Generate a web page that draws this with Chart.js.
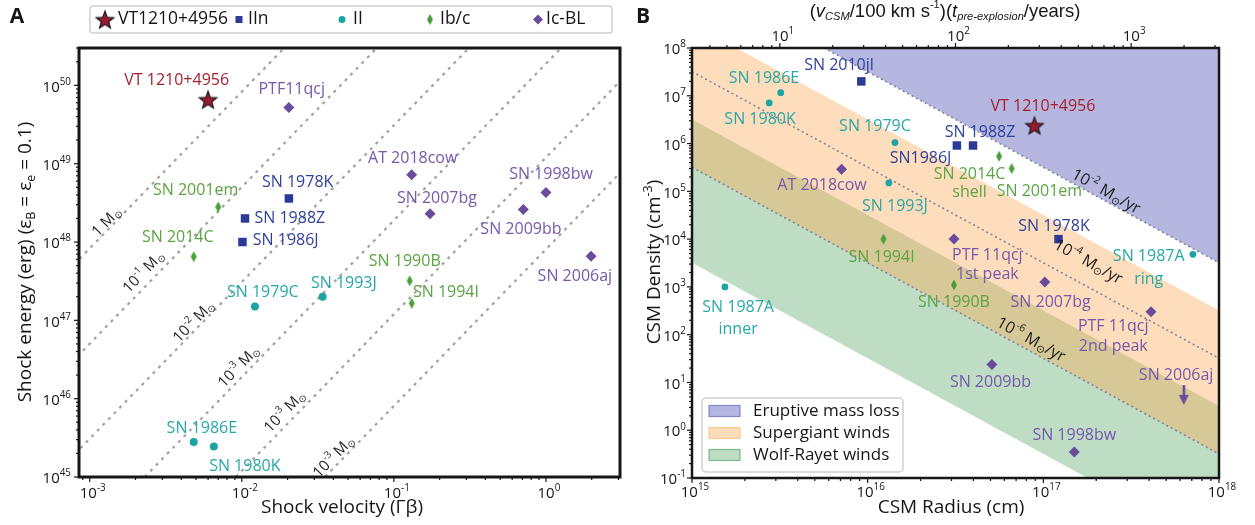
<!DOCTYPE html>
<html>
<head>
<meta charset="utf-8">
<script src="https://cdn.jsdelivr.net/npm/chart.js@4.4.1/dist/chart.umd.min.js"></script>
<style>
  body { margin: 0; background: #fff; width: 1255px; height: 525px; overflow: hidden; position: relative; }
  canvas { position: absolute; top: 0; }
  #chartA { left: 0; }
  #chartB { left: 630px; }
</style>
</head>
<body>
<canvas id="chartA" width="630" height="525"></canvas>
<canvas id="chartB" width="625" height="525"></canvas>
<script>
// ── Panel A: shock velocity (Γβ) vs shock energy (erg) ──
const aVelVT = [0.0060];
const aEnVT = [6.6e49];
const aVelIIn = [0.0204, 0.0105, 0.0101];
const aEnIIn = [3.6e48, 2.0e48, 1.0e48];
const aVelII = [0.0122, 0.034, 0.00483, 0.00655];
const aEnII = [1.5e47, 2.0e47, 2.8e45, 2.45e45];
const aVelIbc = [0.0070, 0.00483, 0.127, 0.131];
const aEnIbc = [2.8e48, 6.5e47, 3.2e47, 1.65e47];
const aVelIcBL = [0.0204, 0.131, 1.0, 0.71, 0.173, 1.98];
const aEnIcBL = [5.2e49, 7.2e48, 4.3e48, 2.6e48, 2.3e48, 6.6e47];
// constant-mass guide lines: velocity where each line reaches 1e45 and 1e51 erg
const aMassLineE = [1e45, 1e51];
const aMassLineV45 = [3.47e-5, 1.41e-4, 5.69e-4, 2.30e-3, 9.14e-3, 3.52e-2];
const aMassLineV51 = [3.47e-2, 0.141, 0.569, 2.30, 9.14, 35.2];
const aVelTickExp = [-3, -2, -1, 0];
const aEnTickExp = [45, 46, 47, 48, 49, 50];

// ── Panel B: CSM radius (cm) vs CSM density (cm^-3) ──
const bRadVT = [8.9e16];
const bDenVT = [2.4e6];
const bRadIIn = [9.2e15, 3.22e16, 3.98e16, 1.22e17];
const bDenIIn = [2.0e7, 9.1e5, 9.1e5, 1.0e4];
const bRadII = [3.2e15, 2.75e15, 1.43e16, 1.32e16, 7.1e17, 1.54e15];
const bDenII = [1.16e7, 7.1e6, 1.05e6, 1.5e5, 4.8e3, 1.0e3];
const bRadIbc = [5.6e16, 6.6e16, 1.23e16, 3.1e16];
const bDenIbc = [5.4e5, 3.0e5, 1.0e4, 1.1e3];
const bRadIcBL = [7.1e15, 3.1e16, 1.02e17, 4.1e17, 5.1e16, 1.5e17];
const bDenIcBL = [2.9e5, 1.0e4, 1.26e3, 300, 23.7, 0.35];
const bRadLimit = [6.3e17];
const bDenLimit = [5.5];
// band / mass-loss line edges at R = 1e15 and 1e18 cm
const bEdgeR = [1e15, 1e18];
const bEruptiveLow = [3.2e9, 3.2e3];
const bSupergiantHigh = [3.2e8, 3.2e2];
const bSupergiantLow = [3.2e5, 0.32];
const bWolfRayetHigh = [3.2e6, 3.2];
const bWolfRayetLow = [3.2e3, 3.2e-3];
const bRate2 = [3.2e9, 3.2e3];
const bRate4 = [3.2e7, 32];
const bRate6 = [3.2e5, 0.32];
const bRadTickExp = [15, 16, 17, 18];
const bDenTickExp = [-1, 0, 1, 2, 3, 4, 5, 6, 7, 8];
const bTopTickExp = [1, 2, 3];

const FONT = '"Open Sans", "Noto Sans", sans-serif';
const ARIAL = '"Liberation Sans", Arial, sans-serif';
const INK = '#161616';
const COL = { vt: '#9b1b30', iin: '#2b3a97', ii: '#1ca3a3', ibc: '#4c9e3a', icbl: '#6a4c9c' };
const TXT = { vt: '#a8202f', iin: '#2e3f9e', ii: '#27a8a6', ibc: '#5ba444', icbl: '#7658ad', k: '#1c1c1c' };

const pts = (xs, ys) => xs.map((x, i) => ({ x, y: ys[i] }));

// ── rich text: ^{sup} _{sub} *{italic} #{italic sub} ──
function parseRich(str) {
  const runs = [];
  let i = 0, buf = '';
  const kinds = { '^': 'sup', '_': 'sub', '*': 'i', '#': 'isub' };
  while (i < str.length) {
    const c = str[i];
    if (kinds[c] && str[i + 1] === '{') {
      if (buf) { runs.push({ t: buf, k: 'n' }); buf = ''; }
      const end = str.indexOf('}', i + 2);
      runs.push({ t: str.slice(i + 2, end), k: kinds[c] });
      i = end + 1;
    } else { buf += c; i++; }
  }
  if (buf) runs.push({ t: buf, k: 'n' });
  return runs;
}
function runFont(k, o) {
  const small = k === 'sup' || k === 'sub' || k === 'isub';
  const it = (k === 'i' || k === 'isub') ? 'italic ' : '';
  const s = small ? o.size * (o.small || 0.66) : o.size;
  return `${it}${o.weight || 'normal'} ${s}px ${o.family || FONT}`;
}
function runShift(k, size) {
  if (k === 'sup') return -size * 0.36;
  if (k === 'sub' || k === 'isub') return size * 0.26;
  return 0;
}
function drawRich(ctx, str, x, y, o) {
  const runs = parseRich(str);
  ctx.save();
  ctx.translate(x, y);
  if (o.rotate) ctx.rotate(o.rotate * Math.PI / 180);
  let w = 0;
  runs.forEach((r) => { ctx.font = runFont(r.k, o); r.w = ctx.measureText(r.t).width; w += r.w; });
  let cx = o.align === 'left' ? 0 : o.align === 'right' ? -w : -w / 2;
  ctx.fillStyle = o.color || INK;
  ctx.textBaseline = 'middle';
  ctx.textAlign = 'left';
  runs.forEach((r) => {
    ctx.font = runFont(r.k, o);
    ctx.fillText(r.t, cx, runShift(r.k, o.size));
    cx += r.w;
  });
  ctx.restore();
}

// ── marker images ──
function makeCanvas(w, h, draw) {
  const c = document.createElement('canvas');
  c.width = w; c.height = h;
  draw(c.getContext('2d'), w, h);
  return c;
}
const starImg = makeCanvas(22, 22, (g) => {
  g.translate(11, 12);
  g.beginPath();
  for (let i = 0; i < 10; i++) {
    const ang = -Math.PI / 2 + i * Math.PI / 5;
    const r = i % 2 ? 3.9 : 9.2;
    g.lineTo(Math.cos(ang) * r, Math.sin(ang) * r);
  }
  g.closePath();
  g.fillStyle = COL.vt; g.fill();
  g.lineWidth = 1.2; g.strokeStyle = '#1a1a1a'; g.stroke();
});
const thinDiamondImg = makeCanvas(8, 12, (g, w, h) => {
  g.beginPath();
  g.moveTo(w / 2, 0.5); g.lineTo(w - 1, h / 2); g.lineTo(w / 2, h - 0.5); g.lineTo(1, h / 2);
  g.closePath(); g.fillStyle = COL.ibc; g.fill();
});
const arrowImg = makeCanvas(12, 20, (g) => {
  g.fillStyle = COL.icbl;
  g.fillRect(4.8, 0, 2.6, 12);
  g.beginPath(); g.moveTo(1, 10); g.lineTo(11, 10); g.lineTo(6, 20); g.closePath(); g.fill();
});

// ── log axes: tick list from decades ──
function logTicks(min, max) {
  const out = [];
  for (let e = Math.floor(Math.log10(min)); e <= Math.ceil(Math.log10(max)); e++) {
    for (let m = 1; m <= 9; m++) {
      const v = m * Math.pow(10, e);
      if (v >= min * 0.999999 && v <= max * 1.000001) out.push({ value: v, major: m === 1 });
    }
  }
  return out;
}
function logAxis(min, max, position, size) {
  return {
    type: 'logarithmic', position, min, max,
    ticks: { display: false },
    grid: { display: false },
    border: { display: false },
    afterBuildTicks: (s) => { s.ticks = logTicks(s.min, s.max); },
    afterFit: (s) => { if (s.isHorizontal()) s.height = size; else s.width = size; },
  };
}
function drawAxis(ctx, scale, a, ax) {
  ctx.save();
  ctx.strokeStyle = INK; ctx.lineWidth = 1.2;
  scale.ticks.forEach((t) => {
    const p = scale.getPixelForValue(t.value);
    const len = t.major ? 5 : 3;
    ctx.beginPath();
    if (ax.side === 'bottom') { ctx.moveTo(p, a.bottom); ctx.lineTo(p, a.bottom + len); }
    else if (ax.side === 'top') { ctx.moveTo(p, a.top); ctx.lineTo(p, a.top - len); }
    else { ctx.moveTo(a.left, p); ctx.lineTo(a.left - len, p); }
    ctx.stroke();
  });
  ax.exps.forEach((e) => {
    const p = scale.getPixelForValue(Math.pow(10, e));
    const txt = '10^{' + e + '}';
    const o = { size: 15, color: INK };
    if (ax.side === 'bottom') drawRich(ctx, txt, p + 3, a.bottom + ax.gap, o);
    else if (ax.side === 'top') drawRich(ctx, txt, p + 3, a.top - ax.gap, o);
    else drawRich(ctx, txt, a.left - ax.gap, p + 2, Object.assign({ align: 'right' }, o));
  });
  ctx.restore();
}

function roundBox(ctx, x, y, w, h, r) {
  ctx.beginPath();
  ctx.roundRect(x, y, w, h, r);
  ctx.fillStyle = 'rgba(255,255,255,0.92)';
  ctx.fill();
  ctx.strokeStyle = '#cfcfcf'; ctx.lineWidth = 1.5;
  ctx.stroke();
}

// per-chart decoration: frame, ticks, titles, notes, legend
function makeDecor(cfg) {
  return {
    id: 'decor',
    afterDatasetsDraw(chart) {
      const ctx = chart.ctx, xs = chart.scales.x, ys = chart.scales.y;
      cfg.notes.forEach((n) => drawRich(ctx, n[0], xs.getPixelForValue(n[1]), ys.getPixelForValue(n[2]),
        { size: n[4] || 16, color: TXT[n[3]], rotate: n[5] }));
    },
    afterDraw(chart) {
      const ctx = chart.ctx, a = chart.chartArea;
      ctx.save();
      cfg.axes.forEach((ax) => drawAxis(ctx, chart.scales[ax.id], a, ax));
      ctx.strokeStyle = INK; ctx.lineWidth = cfg.frame;
      ctx.strokeRect(a.left, a.top, a.right - a.left, a.bottom - a.top);
      cfg.titles.forEach((t) => drawRich(ctx, t.text, t.x, t.y, t));
      if (cfg.legend) cfg.legend(ctx, a);
      ctx.restore();
    },
  };
}

// ── Panel A notes (text, x, y, colour key) ──
const aNotes = [
  ['VT 1210+4956', 3.73e-3, 1.15e50, 'vt'],
  ['PTF11qcj', 0.0213, 8.9e49, 'icbl'],
  ['AT 2018cow', 0.133, 1.17e49, 'icbl'],
  ['SN 1998bw', 1.08, 7.2e48, 'icbl'],
  ['SN 2007bg', 0.192, 3.6e48, 'icbl'],
  ['SN 2009bb', 0.685, 1.44e48, 'icbl'],
  ['SN 2006aj', 1.55, 3.6e47, 'icbl'],
  ['SN 1978K', 0.0233, 5.7e48, 'iin'],
  ['SN 1988Z', 0.0207, 2.0e48, 'iin'],
  ['SN 1986J', 0.01945, 1.05e48, 'iin'],
  ['SN 2001em', 4.97e-3, 4.6e48, 'ibc'],
  ['SN 2014C', 3.79e-3, 1.15e48, 'ibc'],
  ['SN 1990B', 0.118, 5.6e47, 'ibc'],
  ['SN 1994I', 0.22, 2.3e47, 'ibc'],
  ['SN 1993J', 0.0469, 3.0e47, 'ii'],
  ['SN 1979C', 0.01374, 2.25e47, 'ii'],
  ['SN 1986E', 5.46e-3, 4.2e45, 'ii'],
  ['SN 1980K', 0.01047, 1.38e45, 'ii'],
  ['1 M_{⊙}', 1.29e-3, 1.8e48, 'k', 15, -46],
  ['10^{-1} M_{⊙}', 2.26e-3, 4.1e47, 'k', 15, -46],
  ['10^{-2} M_{⊙}', 4.83e-3, 9.6e46, 'k', 15, -46],
  ['10^{-3} M_{⊙}', 9.55e-3, 2.56e46, 'k', 15, -46],
  ['10^{-3} M_{⊙}', 0.0192, 6.8e45, 'k', 15, -46],
  ['10^{-3} M_{⊙}', 0.0403, 1.8e45, 'k', 15, -46],
];

// ── Panel B notes ──
const bNotes = [
  ['SN 2010jl', 6.87e15, 4.4e7, 'iin'],
  ['SN 1986E', 2.57e15, 2.35e7, 'ii'],
  ['SN 1980K', 2.44e15, 3.24e6, 'ii'],
  ['SN 1979C', 1.1e16, 2.3e6, 'ii'],
  ['VT 1210+4956', 9.95e16, 6.1e6, 'vt'],
  ['SN 1988Z', 4.36e16, 1.7e6, 'iin'],
  ['SN1986J', 2.0e16, 5.0e5, 'iin'],
  ['SN 2014C', 3.8e16, 2.3e5, 'ibc'],
  ['shell', 3.8e16, 9.3e4, 'ibc'],
  ['SN 2001em', 9.5e16, 1.0e5, 'ibc'],
  ['AT 2018cow', 5.5e15, 1.3e5, 'icbl'],
  ['SN 1993J', 1.43e16, 4.9e4, 'ii'],
  ['SN 1978K', 1.15e17, 1.8e4, 'iin'],
  ['SN 1994I', 1.2e16, 4.1e3, 'ibc'],
  ['PTF 11qcj', 4.8e16, 4.5e3, 'icbl'],
  ['1st peak', 4.8e16, 1.8e3, 'icbl'],
  ['SN 1987A', 3.98e17, 4.3e3, 'ii'],
  ['ring', 3.98e17, 1.4e3, 'ii'],
  ['SN 1987A', 1.83e15, 363, 'ii'],
  ['inner', 1.83e15, 126, 'ii'],
  ['SN 1990B', 3.1e16, 468, 'ibc'],
  ['SN 2007bg', 1.1e17, 468, 'icbl'],
  ['PTF 11qcj', 2.5e17, 146, 'icbl'],
  ['2nd peak', 2.5e17, 55.6, 'icbl'],
  ['SN 2009bb', 5.0e16, 9.8, 'icbl'],
  ['SN 2006aj', 5.7e17, 13.8, 'icbl'],
  ['SN 1998bw', 1.5e17, 0.76, 'icbl'],
  ['10^{-2} M_{⊙}/yr', 2.27e17, 9.8e4, 'k', 16, 29],
  ['10^{-4} M_{⊙}/yr', 1.8e17, 3.3e3, 'k', 16, 29],
  ['10^{-6} M_{⊙}/yr', 8.5e16, 78, 'k', 16, 29],
];

const BAND = {
  eruptive: 'rgba(100,105,190,0.48)',
  supergiant: 'rgba(250,170,85,0.4)',
  wolfrayet: 'rgba(60,150,80,0.33)',
};

function legendA(ctx) {
  roundBox(ctx, 90, 6, 522, 27, 3);
  const y = 19.5;
  ctx.drawImage(starImg, 105 - 11, y - 11);
  ctx.fillStyle = COL.iin; ctx.fillRect(235.5, y - 3.5, 7, 7);
  ctx.fillStyle = COL.ii; ctx.beginPath(); ctx.arc(342, y, 3.5, 0, Math.PI * 2); ctx.fill();
  ctx.drawImage(thinDiamondImg, 430 - 4, y - 6);
  ctx.fillStyle = COL.icbl; ctx.beginPath();
  ctx.moveTo(538, y - 5); ctx.lineTo(543, y); ctx.lineTo(538, y + 5); ctx.lineTo(533, y); ctx.closePath(); ctx.fill();
  const o = { size: 17.5, color: INK, align: 'left' };
  drawRich(ctx, 'VT1210+4956', 118, y, o);
  drawRich(ctx, 'IIn', 248, y, o);
  drawRich(ctx, 'II', 353, y, o);
  drawRich(ctx, 'Ib/c', 440, y, o);
  drawRich(ctx, 'Ic-BL', 546, y, o);
}

function legendB(ctx) {
  roundBox(ctx, 72, 398, 201, 74, 4);
  const rows = [
    ['Eruptive mass loss', BAND.eruptive, 'rgba(100,105,190,0.75)'],
    ['Supergiant winds', BAND.supergiant, 'rgba(250,170,85,0.55)'],
    ['Wolf-Rayet winds', BAND.wolfrayet, 'rgba(60,150,80,0.6)'],
  ];
  rows.forEach((r, i) => {
    const y = 411 + i * 22;
    ctx.fillStyle = r[1]; ctx.fillRect(79, y - 5.5, 31, 11);
    ctx.strokeStyle = r[2]; ctx.lineWidth = 1.2; ctx.strokeRect(79, y - 5.5, 31, 11);
    drawRich(ctx, r[0], 123, y, { size: 17, color: INK, align: 'left' });
  });
}

const base = {
  responsive: false,
  animation: false,
  events: [],
  plugins: { legend: { display: false }, tooltip: { enabled: false } },
};

// ── Chart A ──
const massLines = aMassLineV45.map((v, i) => ({
  type: 'scatter', showLine: true, order: 5,
  data: pts([v, aMassLineV51[i]], aMassLineE),
  borderColor: '#a2a2a2', borderWidth: 2.2, borderDash: [3, 5], pointRadius: 0, fill: false,
}));

new Chart(document.getElementById('chartA'), {
  type: 'scatter',
  data: {
    datasets: [
      ...massLines,
      { data: pts(aVelIIn, aEnIIn), pointStyle: 'rect', pointRadius: 6, backgroundColor: COL.iin, borderWidth: 0, order: 0 },
      { data: pts(aVelII, aEnII), pointStyle: 'circle', pointRadius: 4, backgroundColor: COL.ii, borderWidth: 0, order: 0 },
      { data: pts(aVelIbc, aEnIbc), pointStyle: thinDiamondImg, pointRadius: 5, order: 0 },
      { data: pts(aVelIcBL, aEnIcBL), pointStyle: 'rectRot', pointRadius: 5.5, backgroundColor: COL.icbl, borderWidth: 0, order: 0 },
      { data: pts(aVelVT, aEnVT), pointStyle: starImg, pointRadius: 5, order: 0 },
    ],
  },
  options: Object.assign({}, base, {
    layout: { padding: { left: 0, right: 10, top: 48, bottom: 0 } },
    scales: {
      x: logAxis(8.5e-4, 3.07, 'bottom', 48),
      y: logAxis(1e45, 3e50, 'left', 79),
    },
  }),
  plugins: [makeDecor({
    frame: 3,
    notes: aNotes,
    axes: [
      { id: 'x', side: 'bottom', exps: aVelTickExp, gap: 17 },
      { id: 'y', side: 'left', exps: aEnTickExp, gap: 8 },
    ],
    titles: [
      { text: 'A', x: 17, y: 17, size: 21, weight: 'bold' },
      { text: 'Shock velocity (Γβ)', x: 342, y: 508, size: 19 },
      { text: 'Shock energy (erg) (ε_{B} = ε_{e} = 0.1)', x: 26, y: 262, size: 19, rotate: -90 },
    ],
    legend: legendA,
  })],
});

// ── Chart B ──
const band = (ys, color, fill) => ({
  type: 'scatter', showLine: true, order: 6, data: pts(bEdgeR, ys),
  borderWidth: 0, pointRadius: 0, backgroundColor: color, fill,
});
const rateLine = (ys) => ({
  type: 'scatter', showLine: true, order: 5, data: pts(bEdgeR, ys),
  borderColor: '#80849a', borderWidth: 1.6, borderDash: [2, 3], pointRadius: 0, fill: false,
});

new Chart(document.getElementById('chartB'), {
  type: 'scatter',
  data: {
    datasets: [
      band(bEruptiveLow, BAND.eruptive, 'end'),
      band(bSupergiantHigh, BAND.supergiant, '+1'),
      band(bSupergiantLow, 'rgba(0,0,0,0)', false),
      band(bWolfRayetHigh, BAND.wolfrayet, '+1'),
      band(bWolfRayetLow, 'rgba(0,0,0,0)', false),
      rateLine(bRate2),
      rateLine(bRate4),
      rateLine(bRate6),
      { data: pts(bRadIIn, bDenIIn), pointStyle: 'rect', pointRadius: 6, backgroundColor: COL.iin, borderWidth: 0, order: 0 },
      { data: pts(bRadII, bDenII), pointStyle: 'circle', pointRadius: 3.4, backgroundColor: COL.ii, borderWidth: 0, order: 0 },
      { data: pts(bRadIbc, bDenIbc), pointStyle: thinDiamondImg, pointRadius: 5, order: 0 },
      { data: pts(bRadIcBL, bDenIcBL), pointStyle: 'rectRot', pointRadius: 5.5, backgroundColor: COL.icbl, borderWidth: 0, order: 0 },
      { data: pts(bRadLimit, bDenLimit), pointStyle: arrowImg, pointRadius: 5, order: 0 },
      { data: pts(bRadVT, bDenVT), pointStyle: starImg, pointRadius: 5, order: 0 },
    ],
  },
  options: Object.assign({}, base, {
    layout: { padding: { left: 0, right: 36, top: 0, bottom: 0 } },
    scales: {
      x: logAxis(1e15, 1e18, 'bottom', 47),
      x2: logAxis(Math.pow(10, 0.5), Math.pow(10, 3.5), 'top', 48),
      y: logAxis(0.1, 1e8, 'left', 62),
    },
  }),
  plugins: [makeDecor({
    frame: 2.5,
    notes: bNotes,
    axes: [
      { id: 'x', side: 'bottom', exps: bRadTickExp, gap: 15 },
      { id: 'x2', side: 'top', exps: bTopTickExp, gap: 11 },
      { id: 'y', side: 'left', exps: bDenTickExp, gap: 6 },
    ],
    titles: [
      { text: 'B', x: 13, y: 17, size: 21, weight: 'bold' },
      { text: 'CSM Radius (cm)', x: 321, y: 508, size: 19 },
      { text: 'CSM Density (cm^{-3})', x: 25, y: 262, size: 19, rotate: -90 },
      { text: '(*{v}#{CSM}/100 km s^{-1})(*{t}#{pre-explosion}/years)', x: 315, y: 12, size: 18.5, small: 0.6, family: ARIAL },
    ],
    legend: legendB,
  })],
});
</script>
</body>
</html>
